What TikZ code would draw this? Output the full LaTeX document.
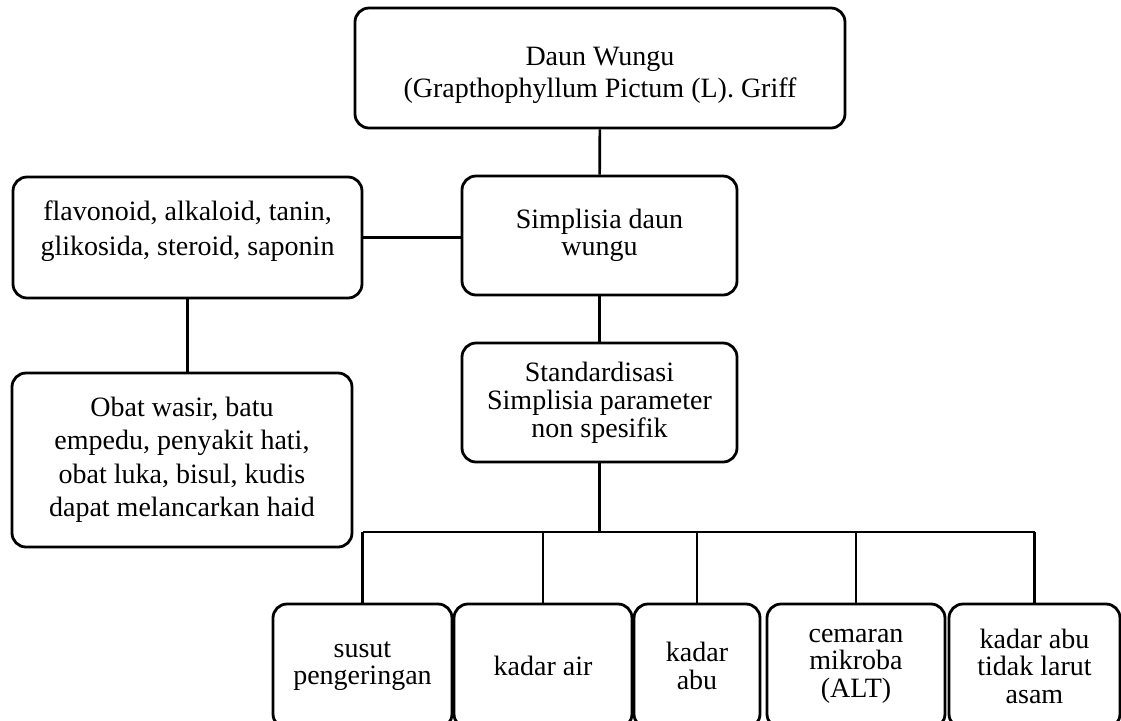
\documentclass[tikz,border=0pt]{standalone}
\usepackage{fontspec}
\setmainfont{Liberation Serif}
\begin{document}
\begin{tikzpicture}[x=0.5pt, y=-0.5pt, line width=1.4pt,
        box/.style={draw, rounded corners=7pt, align=center, inner sep=0pt},
        leaf/.style={box, minimum height=62pt, font=\fontsize{14}{13.75}\selectfont},
        link/.style={line width=1.3pt}]
    \useasboundingbox (0,0) rectangle (1121,720);
    \clip (0,0) rectangle (1121,720);

    % main column
    \node[box, minimum width=245pt, minimum height=60pt,
        font=\fontsize{14}{16}\selectfont] (daun) at (600,68)
        {\rule{0pt}{16.5pt}Daun Wungu\\(Grapthophyllum Pictum (L). Griff};
    \node[box, minimum width=137.5pt, minimum height=59.5pt,
        font=\fontsize{14}{13.5}\selectfont] (simp) at (599.5,235.5)
        {Simplisia daun\\wungu};
    \node[box, minimum width=137.5pt, minimum height=59.5pt,
        font=\fontsize{14}{14}\selectfont] (std) at (599.5,402.5)
        {Standardisasi\\Simplisia parameter\\non spesifik};

    % left column
    \node[box, minimum width=174.5pt, minimum height=60.5pt,
        font=\fontsize{14}{17.5}\selectfont] (flav) at (187.5,237.5)
        {flavonoid, alkaloid, tanin,\\glikosida, steroid, saponin\rule[-9.5pt]{0pt}{0pt}};
    \node[box, minimum width=170pt, minimum height=87pt,
        font=\fontsize{14}{16.75}\selectfont] (obat) at (182,460)
        {Obat wasir, batu\\empedu, penyakit hati,\\obat luka, bisul, kudis\\dapat melancarkan haid};

    % parameters
    \node[leaf, minimum width=89.5pt] (susut) at (362.5,666) {susut\\pengeringan};
    \node[leaf, minimum width=89pt] (air) at (543,666) {kadar air};
    \node[leaf, minimum width=63pt] (abu) at (697,666) {kadar\\abu};
    \node[leaf, minimum width=89pt] (alt) at (856,666) {cemaran\\mikroba\\(ALT)};
    \node[leaf, minimum width=85.5pt] (asam) at (1034.5,666) {kadar abu\\tidak larut\\asam};

    % connectors
    \draw[link] (daun) -- (simp);
    \draw[link] (simp) -- (std);
    \draw[link] (flav.east) -- (flav.east -| simp.west);
    \draw[link] (flav.south) -- (flav.south |- obat.north);
    \coordinate (bus) at (599.5,532);
    \draw[link] (std.south) -- (bus);
    \draw[link] (susut.north |- bus) -- (asam.north |- bus);
    \foreach \p in {susut, air, abu, alt, asam}
        \draw[link] (\p.north |- bus) -- (\p.north);
\end{tikzpicture}
\end{document}
